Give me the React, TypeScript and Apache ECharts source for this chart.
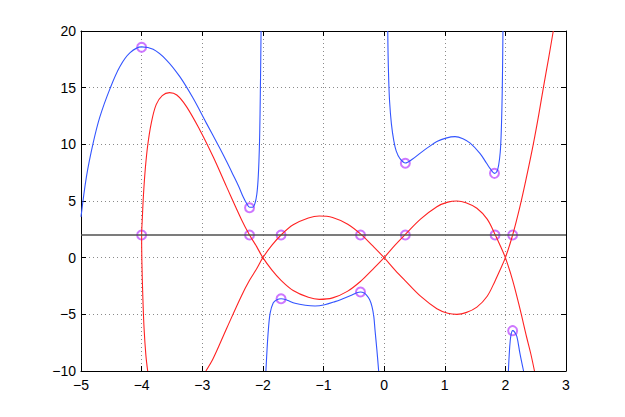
import React, { useEffect, useRef } from "react";
import * as echarts from "echarts";

const xTicks = { min: -5, max: 3, step: 1 };
const yTicks = { min: -10, max: 20, step: 5 };

const blueLeft = [[-5, 3.6], [-4.91, 7.15], [-4.8, 10.1], [-4.69, 12.4], [-4.52, 14.94], [-4.36, 16.85], [-4.19, 18.09], [-4.0, 18.6], [-3.81, 18.38], [-3.59, 17.44], [-3.37, 15.97], [-3.15, 14.06], [-2.93, 11.85], [-2.71, 9.65], [-2.6, 8.5], [-2.49, 7.3], [-2.4, 6.3], [-2.32, 5.3], [-2.27, 4.8], [-2.22, 4.45], [-2.17, 4.45], [-2.13, 4.8], [-2.1, 5.6], [-2.08, 6.8], [-2.065, 8.5], [-2.052, 11], [-2.042, 14.5], [-2.035, 17.5], [-2.03, 20]];
const blueMid = [[-1.95, -10], [-1.93, -8.0], [-1.91, -6.4], [-1.88, -4.9], [-1.83, -4.0], [-1.77, -3.72], [-1.7, -3.62], [-1.6, -3.75], [-1.47, -4.03], [-1.3, -4.2], [-1.14, -4.26], [-0.98, -4.15], [-0.81, -3.88], [-0.67, -3.6], [-0.53, -3.3], [-0.45, -3.1], [-0.39, -3.03], [-0.33, -3.12], [-0.29, -3.3], [-0.24, -3.7], [-0.2, -4.32], [-0.17, -5.2], [-0.15, -6.4], [-0.12, -8.1], [-0.09, -10]];
const blueRight = [[0.06, 20], [0.065, 18], [0.075, 15.8], [0.09, 13.8], [0.12, 11.8], [0.16, 10.3], [0.2, 9.4], [0.26, 8.75], [0.35, 8.35], [0.47, 8.7], [0.59, 9.2], [0.73, 9.75], [0.87, 10.24], [1.02, 10.55], [1.17, 10.68], [1.3, 10.5], [1.42, 10.1], [1.58, 9.2], [1.69, 8.33], [1.75, 7.85], [1.82, 7.44], [1.86, 7.6], [1.89, 8.2], [1.915, 9.3], [1.93, 10.8], [1.942, 13], [1.952, 16], [1.96, 20]];
const blueFar = [[2.05, -10], [2.07, -8.0], [2.09, -6.9], [2.12, -6.44], [2.15, -6.55], [2.19, -6.97], [2.24, -8.44], [2.3, -10]];

const redOne = [[-3.9, -10], [-3.93, -8.6], [-3.96, -6.2], [-3.98, -3.5], [-3.995, -0.5], [-4.0, 2], [-3.99, 3.3], [-3.97, 5.5], [-3.94, 7.8], [-3.9, 9.9], [-3.84, 11.9], [-3.76, 13.5], [-3.66, 14.3], [-3.54, 14.56], [-3.42, 14.35], [-3.26, 13.33], [-3.04, 11.27], [-2.82, 8.9], [-2.6, 6.27], [-2.35, 3.33], [-2.22, 2], [-2.1, 0.95], [-2, 0], [-1.85, -1.1], [-1.7, -2], [-1.5, -2.9], [-1.25, -3.5], [-1.07, -3.68], [-0.85, -3.55], [-0.6, -2.95], [-0.38, -2.05], [-0.2, -1.1], [0, 0], [0.18, 1.1], [0.35, 2.05], [0.6, 3.4], [0.87, 4.5], [1.05, 4.9], [1.2, 5.0], [1.35, 4.85], [1.53, 4.36], [1.7, 3.4], [1.83, 2.05], [1.92, 1.0], [2, 0], [2.12, -2], [2.24, -4.5], [2.35, -7.0], [2.42, -8.5], [2.48, -10]];
const redTwo = [[-2.94, -10], [-2.82, -8.9], [-2.6, -6.27], [-2.35, -3.33], [-2.22, -2], [-2.1, -0.95], [-2, 0], [-1.85, 1.1], [-1.7, 2], [-1.5, 2.9], [-1.25, 3.5], [-1.07, 3.68], [-0.85, 3.55], [-0.6, 2.95], [-0.38, 2.05], [-0.2, 1.1], [0, 0], [0.18, -1.1], [0.35, -2.05], [0.6, -3.4], [0.87, -4.5], [1.05, -4.9], [1.2, -5.0], [1.35, -4.85], [1.53, -4.36], [1.7, -3.4], [1.83, -2.05], [1.92, -1.0], [2, 0], [2.12, 2], [2.24, 4.5], [2.35, 7.15], [2.46, 10], [2.55, 12.6], [2.63, 15.1], [2.71, 17.5], [2.79, 20]];

const levelLine = [[-5, 2], [3, 2]];
const extremaPoints = [[-4.0, 18.56], [-2.22, 4.41], [-1.7, -3.62], [-0.39, -3.03], [0.35, 8.33], [1.82, 7.44], [2.12, -6.44]];
const crossingPoints = [[-4.0, 2], [-2.22, 2], [-1.7, 2], [-0.39, 2], [0.35, 2], [1.83, 2], [2.12, 2]];

const BLUE = "#3355ff";
const RED = "#ff2222";
const CIRCLE = "#c055ff";
const FONT = "'Liberation Sans', Arial, Helvetica, sans-serif";

const fmt = (v: number) => String(v).replace("-", "\u2212");

export default function App() {
  const ref = useRef<HTMLDivElement>(null);
  useEffect(() => {
    if (!ref.current) return;
    const chart = echarts.init(ref.current, null, { renderer: "svg" });
    const gridLine = { show: true, lineStyle: { color: "#8a8a8a", type: [1, 3] as any, width: 1 } };
    const axisLine = { show: true, onZero: false, lineStyle: { color: "#000", width: 1 } };
    const tick = { show: true, inside: true, length: 5, lineStyle: { color: "#000", width: 1 } };
    const baseX = { type: "value" as const, min: xTicks.min, max: xTicks.max, interval: xTicks.step };
    const baseY = { type: "value" as const, min: yTicks.min, max: yTicks.max, interval: yTicks.step };
    const lineSeries = (data: number[][], color: string, width = 1.1) => ({
      type: "line" as const,
      data,
      showSymbol: false,
      smooth: 0.35,
      lineStyle: { color, width },
      itemStyle: { color },
      clip: true,
      silent: true,
    });
    chart.setOption({
      animation: false,
      backgroundColor: "#fff",
      grid: { left: 81, right: 59, top: 31, bottom: 46, containLabel: false },
      xAxis: [
        {
          ...baseX,
          position: "bottom",
          axisLine,
          axisTick: tick,
          splitLine: gridLine,
          axisLabel: { formatter: fmt, color: "#000", fontSize: 14, fontFamily: FONT, margin: 7 },
        },
        {
          ...baseX,
          position: "top",
          axisLine,
          axisTick: tick,
          splitLine: { show: false },
          axisLabel: { show: false },
        },
      ],
      yAxis: [
        {
          ...baseY,
          position: "left",
          axisLine,
          axisTick: tick,
          splitLine: gridLine,
          axisLabel: { formatter: fmt, color: "#000", fontSize: 14, fontFamily: FONT, margin: 5 },
        },
        {
          ...baseY,
          position: "right",
          axisLine,
          axisTick: tick,
          splitLine: { show: false },
          axisLabel: { show: false },
        },
      ],
      series: [
        lineSeries(blueLeft, BLUE),
        lineSeries(blueMid, BLUE),
        lineSeries(blueRight, BLUE),
        lineSeries(blueFar, BLUE),
        lineSeries(redOne, RED),
        lineSeries(redTwo, RED),
        { ...lineSeries(levelLine, "#505050", 1.5), smooth: false },
        {
          type: "scatter",
          data: extremaPoints,
          symbol: "emptyCircle",
          symbolSize: 9,
          itemStyle: { color: CIRCLE, borderColor: CIRCLE, borderWidth: 1 },
          silent: true,
        },
        {
          type: "scatter",
          data: crossingPoints,
          symbol: "emptyCircle",
          symbolSize: 9,
          itemStyle: { color: CIRCLE, borderColor: CIRCLE, borderWidth: 1 },
          silent: true,
        },
      ],
    });
    return () => chart.dispose();
  }, []);
  return (
    <div
      ref={ref}
      style={{ position: "fixed", left: 0, top: 0, width: 625, height: 417, background: "#fff" }}
    />
  );
}
